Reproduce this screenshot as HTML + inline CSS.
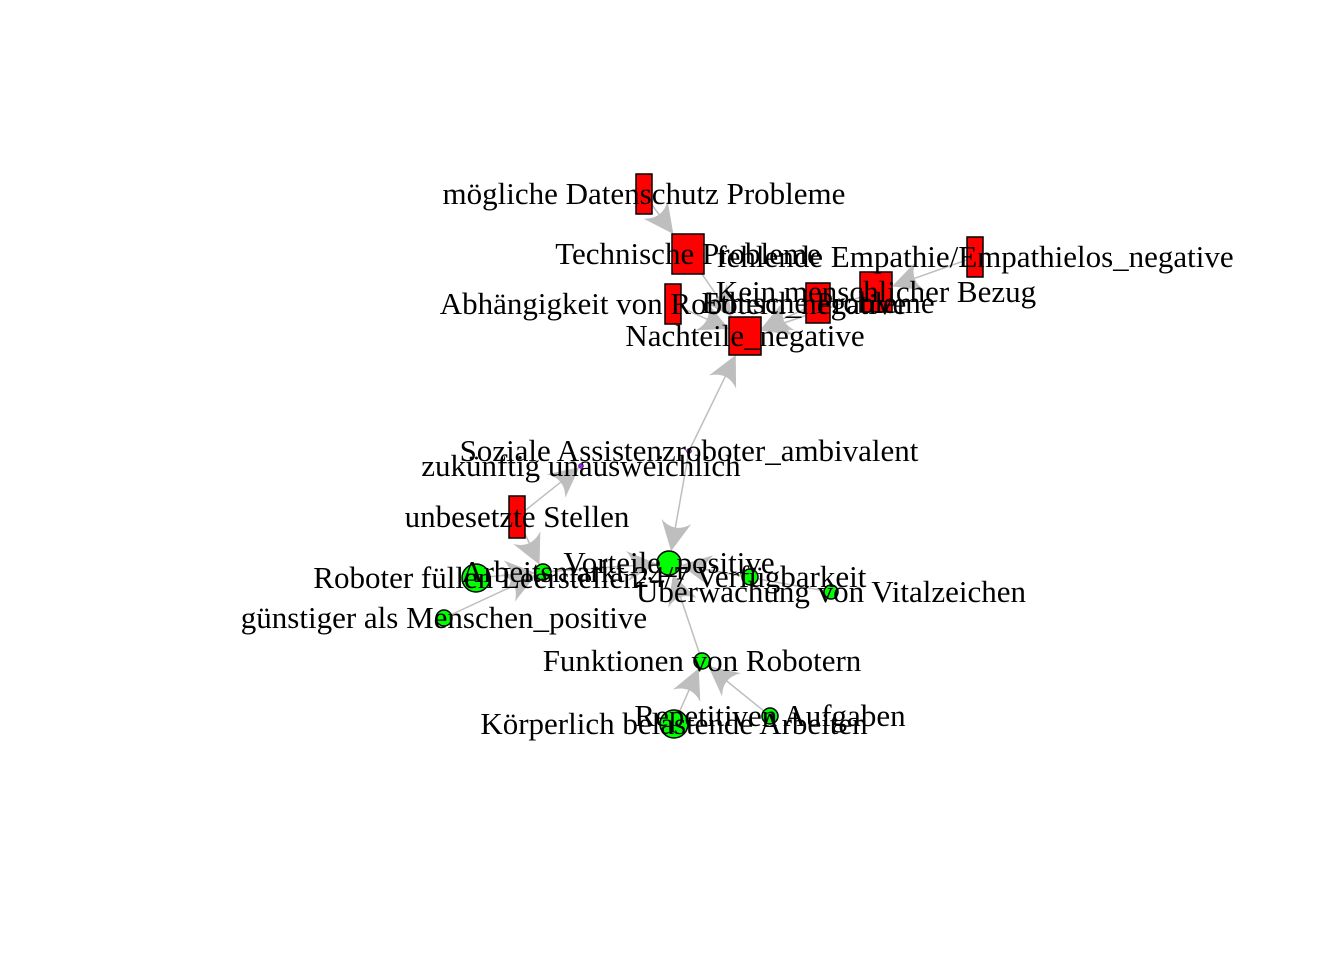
<!DOCTYPE html>
<html><head><meta charset="utf-8"><style>
html,body{margin:0;padding:0;background:#fff;}
svg{display:block;}
text{font-family:"Liberation Serif",serif;font-size:31px;fill:#000;}
</style></head><body>
<svg id="chart" width="1344" height="960" viewBox="0 0 1344 960" xmlns="http://www.w3.org/2000/svg">
<rect width="1344" height="960" fill="#fff"/>
<g id="edges"></g>
<g id="nodes"></g>
<g id="labels"></g>
</svg>
<script>
const nodeLabels = ["mögliche Datenschutz Probleme","Technische Probleme","fehlende Empathie/Empathielos_negative","Kein menschlicher Bezug","Abhängigkeit von Robotern_negative","Ethische Probleme","Nachteile_negative","Soziale Assistenzroboter_ambivalent","zukünftig unausweichlich","unbesetzte Stellen","Roboter füllen Leerstellen","Arbeitsmarkt","Vorteile_positive","24/7 Verfügbarkeit","Überwachung von Vitalzeichen","günstiger als Menschen_positive","Funktionen von Robotern","Körperlich belastende Arbeiten","Repetitiven Aufgaben"];
const nodeX = [644,688,975,876,673,818,745,689,581,517,476,543,669,750,831,444,702,674,770];
const nodeY = [194,254,257,292,304,303,336,451,466,517,578,572,563,577,592,618,661,724,716];
const nodeShape = ["rect","rect","rect","rect","rect","rect","rect","dot","dot","rect","circle","circle","circle","circle","circle","circle","circle","circle","circle"];
const nodeW = [16,32,16,32,16,24,32,4,4,16,28,16,24,16,14,16,16,28,16];
const nodeH = [40,40,40,40,40,40,38,4,4,42,28,16,24,16,14,16,16,28,16];
const edgeFrom = [0,1,4,5,3,2,7,7,9,9,10,15,11,13,14,16,17,18];
const edgeTo   = [1,6,6,6,6,3,6,12,8,11,11,11,12,12,12,12,16,16];

const NS="http://www.w3.org/2000/svg";
const eg=document.getElementById('edges'),ng=document.getElementById('nodes'),lg=document.getElementById('labels');
function mk(t,a){const e=document.createElementNS(NS,t);for(const k in a)e.setAttribute(k,a[k]);return e;}
function boundary(i,dx,dy){
  const L=Math.hypot(dx,dy);const ux=dx/L,uy=dy/L;
  if(nodeShape[i]==='rect'){const hw=nodeW[i]/2,hh=nodeH[i]/2;const t=Math.min(ux?hw/Math.abs(ux):1e9,uy?hh/Math.abs(uy):1e9);return t;}
  return nodeW[i]/2;
}
for(let k=0;k<edgeFrom.length;k++){
  const a=edgeFrom[k],b=edgeTo[k];
  const x1=nodeX[a],y1=nodeY[a],x2=nodeX[b],y2=nodeY[b];
  const dx=x2-x1,dy=y2-y1,L=Math.hypot(dx,dy),ux=dx/L,uy=dy/L;
  const tb=boundary(b,dx,dy);
  const ex=x2-ux*tb,ey=y2-uy*tb;
  const al=30,aw=15;
  const bx=ex-ux*al,by=ey-uy*al;
  const line=mk('line',{x1:x1,y1:y1,x2:bx+ux*6,y2:by+uy*6,stroke:'#bebebe','stroke-width':1.5});
  
  
  eg.appendChild(line);
  const px=-uy,py=ux;
  const mx=ex-ux*al*0.6,my=ey-uy*al*0.6;
  const head=mk('path',{d:`M${ex},${ey} L${bx+px*aw},${by+py*aw} Q${mx},${my} ${bx-px*aw},${by-py*aw} Z`,fill:'#bebebe'});
  
  
  eg.appendChild(head);
}
for(let i=0;i<nodeLabels.length;i++){
  let el;
  if(nodeShape[i]==='rect'){
    el=mk('rect',{x:nodeX[i]-nodeW[i]/2,y:nodeY[i]-nodeH[i]/2,width:nodeW[i],height:nodeH[i],fill:'#ff0000',stroke:'#000','stroke-width':1.5});
  }else if(nodeShape[i]==='dot'){
    el=mk('circle',{cx:nodeX[i],cy:nodeY[i],r:2.5,fill:'#a020f0',stroke:'#000','stroke-width':0.5});
  }else{
    el=mk('circle',{cx:nodeX[i],cy:nodeY[i],r:nodeW[i]/2,fill:'#00ff00',stroke:'#000','stroke-width':1.5});
  }
  
  
  ng.appendChild(el);
  const t=mk('text',{x:nodeX[i],y:nodeY[i]+10,'text-anchor':'middle'});
  t.textContent=nodeLabels[i];
  
  
  lg.appendChild(t);
}
</script>
</body></html>
